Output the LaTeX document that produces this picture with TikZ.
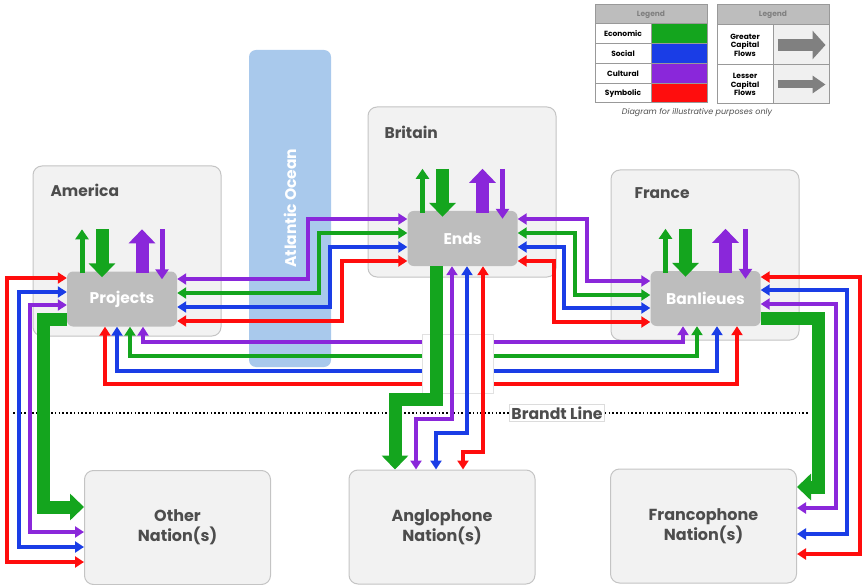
\documentclass[tikz,border=0pt]{standalone}
\usepackage{fontspec}
\setmainfont{Poppins}
\usetikzlibrary{arrows.meta,calc}
\definecolor{econ}{HTML}{14A51E}
\definecolor{soc}{HTML}{1A3DE6}
\definecolor{cult}{HTML}{8A27DA}
\definecolor{symb}{HTML}{FF0D0D}
\definecolor{boxfill}{HTML}{F2F2F2}
\definecolor{boxline}{HTML}{C4C4C4}
\definecolor{hubfill}{HTML}{BDBDBD}
\definecolor{ocean}{HTML}{A9C9EC}
\definecolor{txt}{HTML}{4D4D4D}
\begin{document}
\begin{tikzpicture}[x=1pt,y=-1pt,>={Triangle[width=11pt,length=9pt]},font=\bfseries]
\tikzstyle{ctry}=[draw=boxline,line width=1pt,fill=boxfill,rounded corners=9pt,minimum width=188pt,minimum height=170pt]
\tikzstyle{dest}=[ctry,minimum width=186pt,minimum height=114pt,align=center,text=txt,font=\bfseries\fontsize{16}{20}\selectfont]
\tikzstyle{cname}=[anchor=west,text=txt,font=\bfseries\fontsize{15.5}{18}\selectfont]
\tikzstyle{hub}=[fill=hubfill,rounded corners=6pt,minimum width=110pt,minimum height=55pt,text=white,font=\bfseries\fontsize{15.5}{18}\selectfont]
\tikzstyle{ln}=[line width=3.6pt]
\tikzstyle{fat}=[line width=13pt,-{Triangle[width=26pt,length=14pt]}]
\tikzstyle{slim}=[line width=5pt,-{Triangle[width=13pt,length=10pt]}]
\tikzstyle{lgd}=[draw=gray!80,line width=1pt,inner sep=0pt,align=center,font=\bfseries\fontsize{7.5}{8.5}\selectfont]
\useasboundingbox (0,0) rectangle (864,585);
% countries, ocean, destinations
\node[ctry] (amb) at (127,251) {};
\node[ctry] (brb) at (462,192) {};
\node[ctry] (frb) at (705,255) {};
\node[cname] (amn) at (47,190) {America};
\node[cname] (brn) at (381,132) {Britain};
\node[cname] (frn) at (631,193) {France};
\node[fill=ocean,rounded corners=7pt,minimum width=82pt,minimum height=317pt] (atl) at (290,208.5) {};
\node[rotate=90,text=white,font=\bfseries\fontsize{15.5}{18}\selectfont] (atlt) at (290,208) {Atlantic Ocean};
\node[hub] (proj) at (122,299) {Projects};
\node[hub] (ends) at (462.5,238.5) {Ends};
\node[hub] (banl) at (705.5,298.5) {Banlieues};
\node[dest] (oth) at (177.5,527.5) {Other\\Nation(s)};
\node[dest] (angl) at (442,527) {Anglophone\\Nation(s)};
\node[dest] (fran) at (703.5,526) {Francophone\\Nation(s)};
% Brandt line
\node[fill=white,draw=boxline!60,line width=0.6pt,text=txt,inner sep=2pt,font=\bfseries\fontsize{15.7}{17}\selectfont] (brandt) at (557,413) {Brandt Line};
\draw[line width=1.6pt,dash pattern=on 1.6pt off 2.2pt] (13,413) -- (brandt.west) (brandt.east) -- (810,413);
% flows
\foreach \c/\a/\y/\b in {cult/143/342/683,econ/130/356/697,soc/117/371/717,symb/105/384/737} \draw[ln,<->,\c] (proj.south -| \a,0) |- (\b,\y) -- (banl.south -| \b,0);
\node[draw=boxline!50,fill=white,minimum width=71pt,minimum height=59pt,inner sep=0pt] (brg) at (457.5,363.5) {};
\draw[fat,econ] (ends.south -| 436,0) |- (395,399) -- (angl.north -| 395,0);
\foreach \c/\a/\y/\b in {cult/452/419/416,soc/467/433/436,symb/483/452/463} \draw[ln,<->,\c] (ends.south -| \a,0) |- (\b,\y) -- (angl.north -| \b,0);
\draw[fat,econ] (proj.west |- 0,319) -| (43,507) -- (oth.west |- 0,507);
\foreach \c/\y/\x/\b in {symb/278/7/562,soc/292/19/547,cult/305/30/532} \draw[ln,<->,\c] (proj.west |- 0,\y) -| (\x,\b) -- (oth.west |- 0,\b);
\foreach \c/\y/\x/\b in {cult/279/308/219,econ/293/319/233,soc/307/330/247,symb/321/342/261} \draw[ln,<->,\c] (proj.east |- 0,\y) -| (\x,\b) -- (ends.west |- 0,\b);
\foreach \c/\y/\x/\b in {cult/219/587/281,econ/233/575/295,soc/247/564/308,symb/261/554/322} \draw[ln,<->,\c] (ends.east |- 0,\y) -| (\x,\b) -- (banl.west |- 0,\b);
\draw[fat,econ] (banl.east |- 0,318) -| (818,487) -- (fran.east |- 0,487);
\foreach \c/\y/\x/\b in {symb/277/860/554,soc/290/847/534,cult/304/836/508} \draw[ln,<->,\c] (banl.east |- 0,\y) -| (\x,\b) -- (fran.east |- 0,\b);
\foreach \n in {proj,ends,banl} {
  \draw[slim,econ] ($(\n.north)+(-40,2)$) -- ++(0,-44);
  \draw[fat,econ] ($(\n.north)+(-20,-42)$) -- ++(0,48);
  \draw[fat,cult] ($(\n.north)+(20,2)$) -- ++(0,-44);
  \draw[slim,cult] ($(\n.north)+(40,-42)$) -- ++(0,50);
}
% legends
\node[lgd,fill=hubfill,text=gray,minimum width=112pt,minimum height=19pt] (lg1) at (651,14.5) {Legend};
\foreach \t/\c [count=\i] in {Economic/econ,Social/soc,Cultural/cult,Symbolic/symb} {
  \node[lgd,fill=white,minimum width=56pt,minimum height=19.75pt] (lt\i) at (623,14.125+19.75*\i) {\t};
  \node[lgd,fill=\c,minimum width=56pt,minimum height=19.75pt] (lc\i) at (679,14.125+19.75*\i) {};
}
\node[lgd,fill=hubfill,text=gray,minimum width=112pt,minimum height=20pt] (lg2) at (773,15) {Legend};
\foreach \t/\w/\h/\y/\r [count=\i] in {Greater/12/28/45/40,Lesser/8/17/84.5/39} {
  \node[lgd,fill=white,minimum width=56pt,minimum height=\r pt] (lf\i) at (745,\y) {\t\\Capital\\Flows};
  \node[lgd,fill=black!6,minimum width=56pt,minimum height=\r pt] (la\i) at (801,\y) {};
  \draw[line width=\w pt,gray,-{Triangle[width=\h pt,length=13pt]}] ($(la\i.west)+(5,0)$) -- ($(la\i.east)+(-4,0)$);
}
\node[font=\itshape\fontsize{8}{9}\selectfont,text=txt] (cap) at (697,113) {Diagram for illustrative purposes only};
\end{tikzpicture}
\end{document}
